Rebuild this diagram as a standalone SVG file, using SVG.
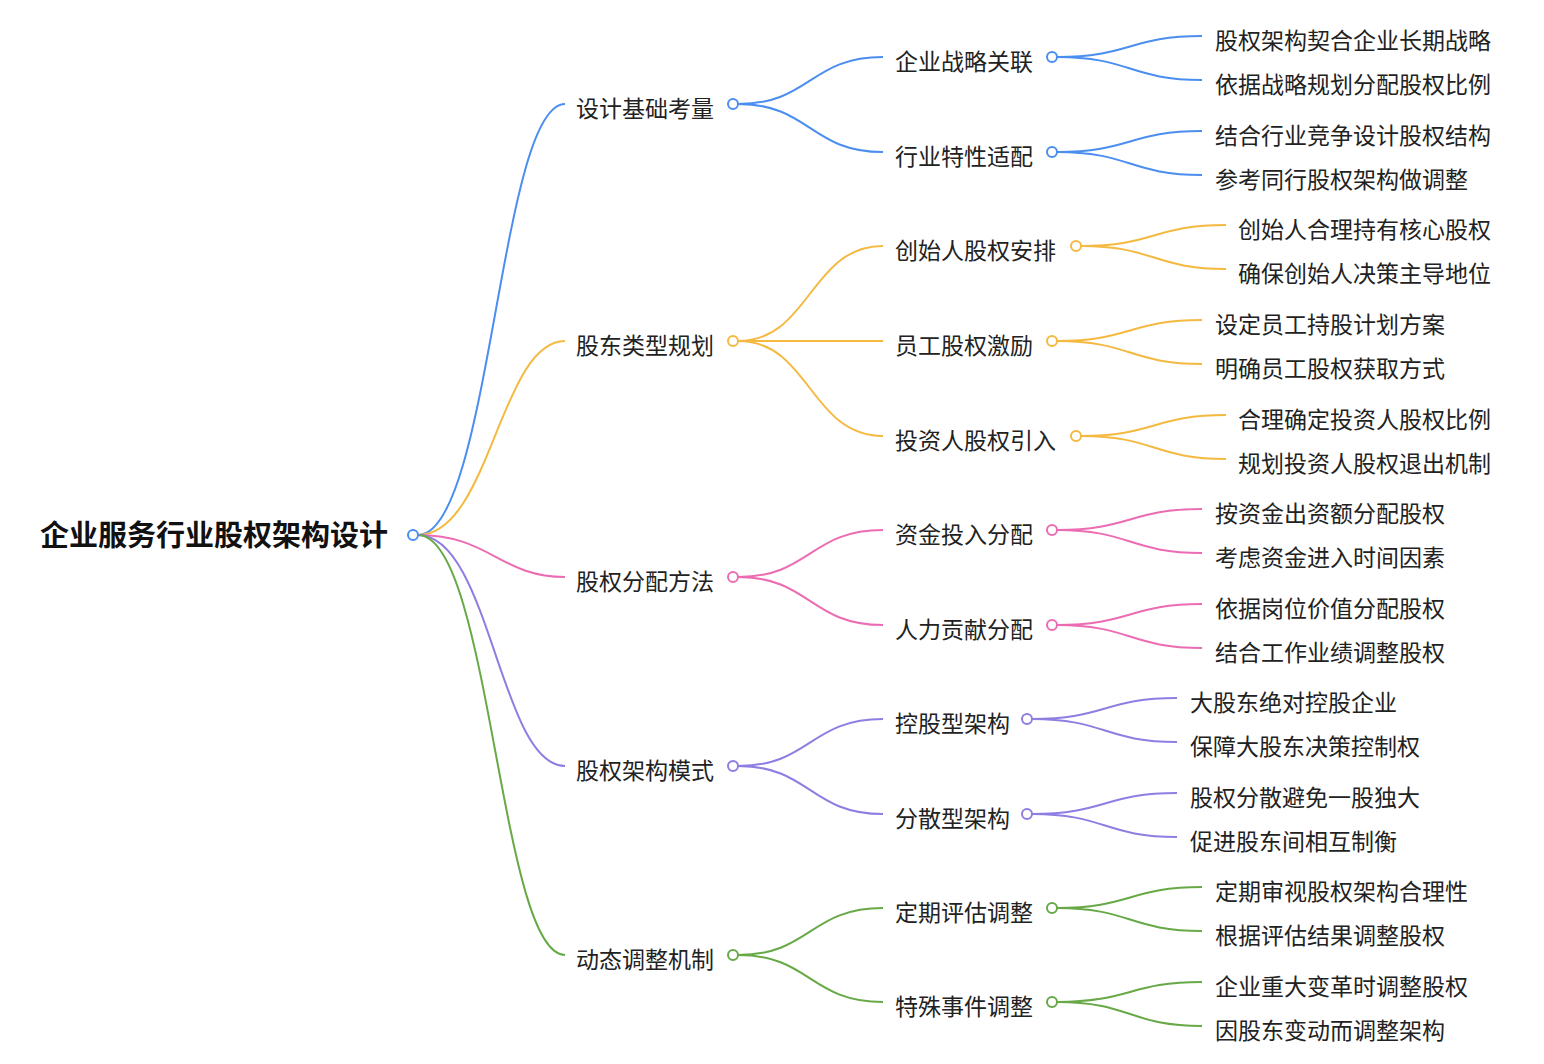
<svg xmlns="http://www.w3.org/2000/svg" width="1544" height="1064" viewBox="0 0 1544 1064">
<style>
text{font-family:"Noto Sans CJK SC","Noto Sans",sans-serif;fill:#222;dominant-baseline:central}
.t1,.t2,.t3{font-size:23px}
.root{font-size:29px;font-weight:bold;fill:#111}
path{fill:none;stroke-width:2}
circle{fill:#fff;stroke-width:2}
.b{stroke:#4b8ef0}.y{stroke:#f4b940}.p{stroke:#ec6cb3}.u{stroke:#8f7de2}.g{stroke:#67a946}
</style>
<rect width="1544" height="1064" fill="#fff"/>
<g id="connectors">
<path class="b" d="M418,535 C490,535 500,104 565,104"/>
<path class="y" d="M418,535 C490,535 500,341 565,341"/>
<path class="p" d="M418,535 C490,535 500,577 565,577"/>
<path class="u" d="M418,535 C490,535 500,766 565,766"/>
<path class="g" d="M418,535 C490,535 500,955 565,955"/>
<path class="b" d="M738,104 C810,104 810,57 883,57"/><path class="b" d="M738,104 C810,104 810,152 883,152"/>
<path class="y" d="M738,341 C810,341 810,246 883,246"/><path class="y" d="M738,341 L883,341"/><path class="y" d="M738,341 C810,341 810,436 883,436"/>
<path class="p" d="M738,577 C810,577 810,530 883,530"/><path class="p" d="M738,577 C810,577 810,625 883,625"/>
<path class="u" d="M738,766 C810,766 810,719 883,719"/><path class="u" d="M738,766 C810,766 810,814 883,814"/>
<path class="g" d="M738,955 C810,955 810,908 883,908"/><path class="g" d="M738,955 C810,955 810,1002 883,1002"/>
<path class="b" d="M1057,57 C1130,57 1130,36 1202,36"/><path class="b" d="M1057,57 C1130,57 1130,80 1202,80"/>
<path class="b" d="M1057,152 C1130,152 1130,131 1202,131"/><path class="b" d="M1057,152 C1130,152 1130,175 1202,175"/>
<path class="y" d="M1081,246 C1154,246 1154,225 1226,225"/><path class="y" d="M1081,246 C1154,246 1154,269 1226,269"/>
<path class="y" d="M1057,341 C1130,341 1130,320 1202,320"/><path class="y" d="M1057,341 C1130,341 1130,364 1202,364"/>
<path class="y" d="M1081,436 C1154,436 1154,415 1226,415"/><path class="y" d="M1081,436 C1154,436 1154,459 1226,459"/>
<path class="p" d="M1057,530 C1130,530 1130,509 1202,509"/><path class="p" d="M1057,530 C1130,530 1130,553 1202,553"/>
<path class="p" d="M1057,625 C1130,625 1130,604 1202,604"/><path class="p" d="M1057,625 C1130,625 1130,648 1202,648"/>
<path class="u" d="M1032,719 C1105,719 1105,698 1177,698"/><path class="u" d="M1032,719 C1105,719 1105,742 1177,742"/>
<path class="u" d="M1032,814 C1105,814 1105,793 1177,793"/><path class="u" d="M1032,814 C1105,814 1105,837 1177,837"/>
<path class="g" d="M1057,908 C1130,908 1130,887 1202,887"/><path class="g" d="M1057,908 C1130,908 1130,931 1202,931"/>
<path class="g" d="M1057,1002 C1130,1002 1130,982 1202,982"/><path class="g" d="M1057,1002 C1130,1002 1130,1026 1202,1026"/>
</g>
<g id="root"><text class="root" x="40" y="533">企业服务行业股权架构设计</text><circle class="b" cx="413" cy="535" r="5"/></g>
<g id="n1"><text class="t1" x="576" y="107">设计基础考量</text><circle class="b" cx="733" cy="104" r="5"/></g>
<g id="n2"><text class="t1" x="576" y="344">股东类型规划</text><circle class="y" cx="733" cy="341" r="5"/></g>
<g id="n3"><text class="t1" x="576" y="580">股权分配方法</text><circle class="p" cx="733" cy="577" r="5"/></g>
<g id="n4"><text class="t1" x="576" y="769">股权架构模式</text><circle class="u" cx="733" cy="766" r="5"/></g>
<g id="n5"><text class="t1" x="576" y="958">动态调整机制</text><circle class="g" cx="733" cy="955" r="5"/></g>
<g id="n11"><text class="t2" x="895" y="60">企业战略关联</text><circle class="b" cx="1052" cy="57" r="5"/></g>
<g id="n12"><text class="t2" x="895" y="155">行业特性适配</text><circle class="b" cx="1052" cy="152" r="5"/></g>
<g id="n21"><text class="t2" x="895" y="249">创始人股权安排</text><circle class="y" cx="1076" cy="246" r="5"/></g>
<g id="n22"><text class="t2" x="895" y="344">员工股权激励</text><circle class="y" cx="1052" cy="341" r="5"/></g>
<g id="n23"><text class="t2" x="895" y="439">投资人股权引入</text><circle class="y" cx="1076" cy="436" r="5"/></g>
<g id="n31"><text class="t2" x="895" y="533">资金投入分配</text><circle class="p" cx="1052" cy="530" r="5"/></g>
<g id="n32"><text class="t2" x="895" y="628">人力贡献分配</text><circle class="p" cx="1052" cy="625" r="5"/></g>
<g id="n41"><text class="t2" x="895" y="722">控股型架构</text><circle class="u" cx="1027" cy="719" r="5"/></g>
<g id="n42"><text class="t2" x="895" y="817">分散型架构</text><circle class="u" cx="1027" cy="814" r="5"/></g>
<g id="n51"><text class="t2" x="895" y="911">定期评估调整</text><circle class="g" cx="1052" cy="908" r="5"/></g>
<g id="n52"><text class="t2" x="895" y="1005">特殊事件调整</text><circle class="g" cx="1052" cy="1002" r="5"/></g>
<g id="leaves">
<text class="t3" x="1215" y="39">股权架构契合企业长期战略</text>
<text class="t3" x="1215" y="83">依据战略规划分配股权比例</text>
<text class="t3" x="1215" y="134">结合行业竞争设计股权结构</text>
<text class="t3" x="1215" y="178">参考同行股权架构做调整</text>
<text class="t3" x="1238" y="228">创始人合理持有核心股权</text>
<text class="t3" x="1238" y="272">确保创始人决策主导地位</text>
<text class="t3" x="1215" y="323">设定员工持股计划方案</text>
<text class="t3" x="1215" y="367">明确员工股权获取方式</text>
<text class="t3" x="1238" y="418">合理确定投资人股权比例</text>
<text class="t3" x="1238" y="462">规划投资人股权退出机制</text>
<text class="t3" x="1215" y="512">按资金出资额分配股权</text>
<text class="t3" x="1215" y="556">考虑资金进入时间因素</text>
<text class="t3" x="1215" y="607">依据岗位价值分配股权</text>
<text class="t3" x="1215" y="651">结合工作业绩调整股权</text>
<text class="t3" x="1190" y="701">大股东绝对控股企业</text>
<text class="t3" x="1190" y="745">保障大股东决策控制权</text>
<text class="t3" x="1190" y="796">股权分散避免一股独大</text>
<text class="t3" x="1190" y="840">促进股东间相互制衡</text>
<text class="t3" x="1215" y="890">定期审视股权架构合理性</text>
<text class="t3" x="1215" y="934">根据评估结果调整股权</text>
<text class="t3" x="1215" y="985">企业重大变革时调整股权</text>
<text class="t3" x="1215" y="1029">因股东变动而调整架构</text>
</g>
</svg>
